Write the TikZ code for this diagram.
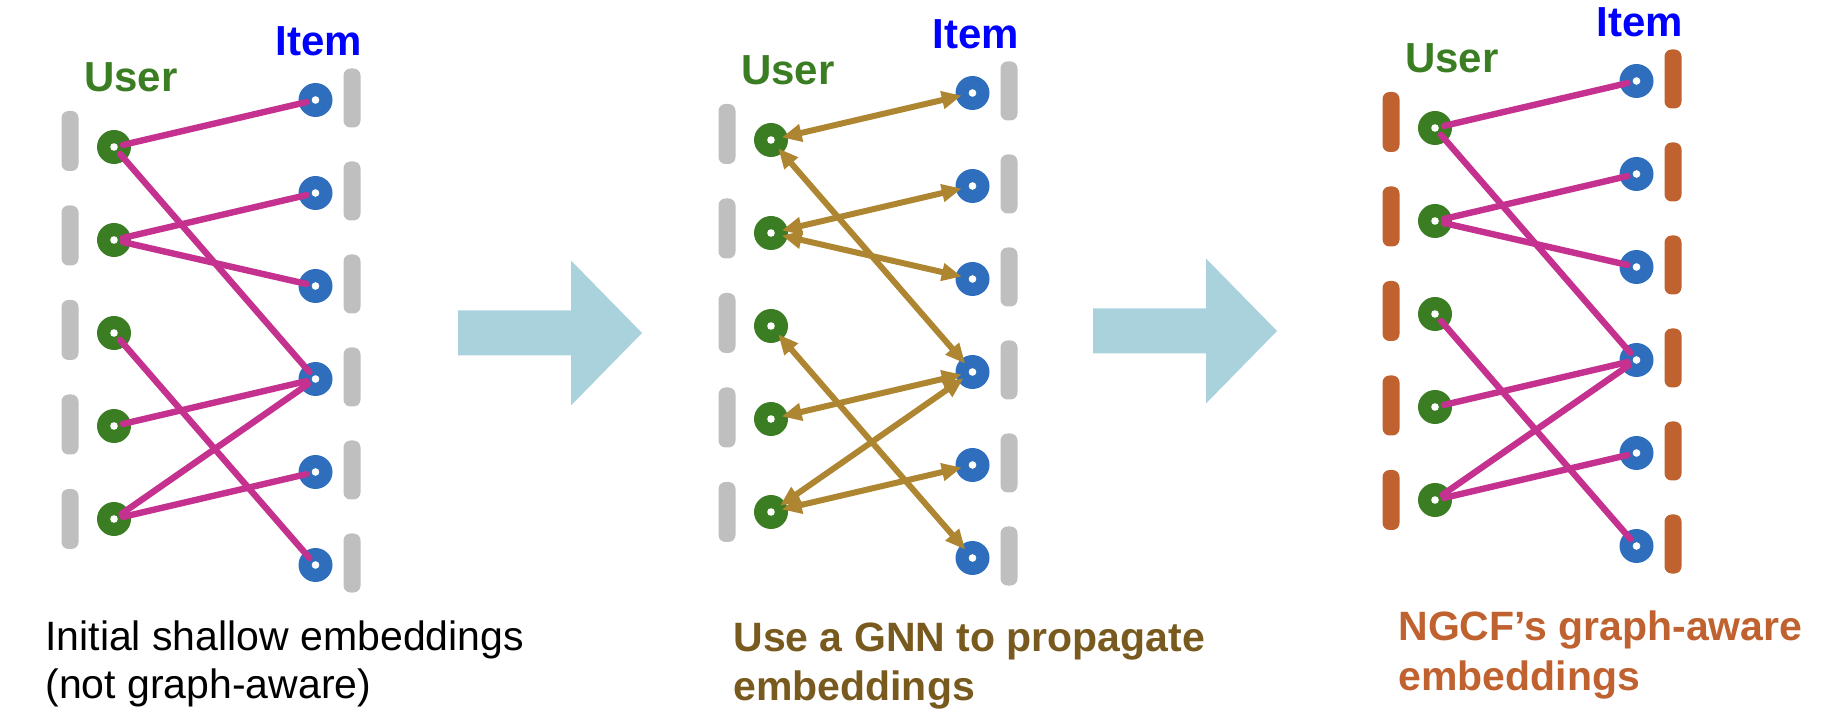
\documentclass[tikz,border=0pt]{standalone}
\usepackage{fontspec}
\setmainfont{Liberation Sans}
\usetikzlibrary{arrows.meta}
\definecolor{usergreen}{rgb}{0.227,0.490,0.133}
\definecolor{itemblue}{rgb}{0.180,0.431,0.741}
\definecolor{barsilver}{rgb}{0.749,0.749,0.749}
\definecolor{edgemagenta}{rgb}{0.769,0.192,0.561}
\definecolor{arrowgold}{rgb}{0.682,0.522,0.188}
\definecolor{textbrown}{rgb}{0.471,0.353,0.118}
\definecolor{burntorange}{rgb}{0.753,0.384,0.184}
\definecolor{flowblue}{rgb}{0.663,0.824,0.867}

\begin{document}
\begin{tikzpicture}[x=0.5pt,y=-0.5pt,>={Triangle[length=10pt,width=8.5pt]},
		usernode/.style={circle,fill=usergreen,minimum size=17pt,inner sep=0pt,
			path picture={\fill[white] (path picture bounding box.center) circle (1.9pt);}},
		itemnode/.style={usernode,fill=itemblue},
		link/.style={line width=3.2pt,color=edgemagenta,line cap=round,shorten <=4.6pt,shorten >=4.6pt},
		spread/.style={<->,line width=3pt,color=arrowgold,shorten <=5.5pt,shorten >=5.5pt},
		hdr/.style={font=\bfseries\fontsize{21}{21}\selectfont,anchor=base,inner sep=0pt},
		caption/.style={font=\fontsize{20.5}{24}\selectfont,anchor=base west,inner sep=0pt}]
			\useasboundingbox (0,0) rectangle (1848,716);
			\foreach \p/\dx/\dy/\barc in {a/0/0/barsilver,b/657/-7/barsilver,c/1321/-19/burntorange}
			{
				\begin{scope}[shift={(\dx,\dy)}]
					\foreach \k in {1,...,5}
					{
						\fill[fill=\barc,rounded corners=3.5pt] (61.5,{16.5+94.5*\k}) rectangle (78.5,{76.5+94.5*\k});
						\node[usernode] (\p-u\k) at (114,{54+93*\k}) {};
					}
					\foreach \k in {1,...,6}
					{
						\fill[fill=\barc,rounded corners=3.5pt] (343.5,{-24.5+93*\k}) rectangle (360.5,{34.5+93*\k});
						\node[itemnode] (\p-i\k) at (315.5,{7+93*\k}) {};
					}
					\node[hdr,text=usergreen] (\p-user) at (131,92) {User};
					\node[hdr,text=blue] (\p-item) at (319,56) {Item};
				\end{scope}
			}
			\foreach \u/\i in {1/1,1/4,2/2,2/3,3/6,4/4,5/4,5/5}
			{
				\draw[link] (a-u\u.center) -- (a-i\i.center);
				\draw[spread] (b-u\u.center) -- (b-i\i.center);
				\draw[link] (c-u\u.center) -- (c-i\i.center);
			}
			% big flow arrows between the panels
			\foreach \ax/\ay in {458/333,1093/331}
			{
				\fill[flowblue] (\ax,\ay-22.5) -- ++(113,0) -- ++(0,-50) -- ++(71,72.5) -- ++(-71,72.5) -- ++(0,-50) -- ++(-113,0) -- cycle;
			}
			\node[caption] (capa1) at (45,650) {Initial shallow embeddings};
			\node[caption] (capa2) at (45,698) {(not graph-aware)};
			\node[caption,font=\bfseries\fontsize{20.5}{24}\selectfont,text=textbrown] (capb1) at (733,651) {Use a GNN to propagate};
			\node[caption,font=\bfseries\fontsize{20.5}{24}\selectfont,text=textbrown] (capb2) at (733,700) {embeddings};
			\node[caption,font=\bfseries\fontsize{20.5}{24}\selectfont,text=burntorange] (capc1) at (1398,640) {NGCF’s graph-aware};
			\node[caption,font=\bfseries\fontsize{20.5}{24}\selectfont,text=burntorange] (capc2) at (1398,690) {embeddings};
\end{tikzpicture}
\end{document}
